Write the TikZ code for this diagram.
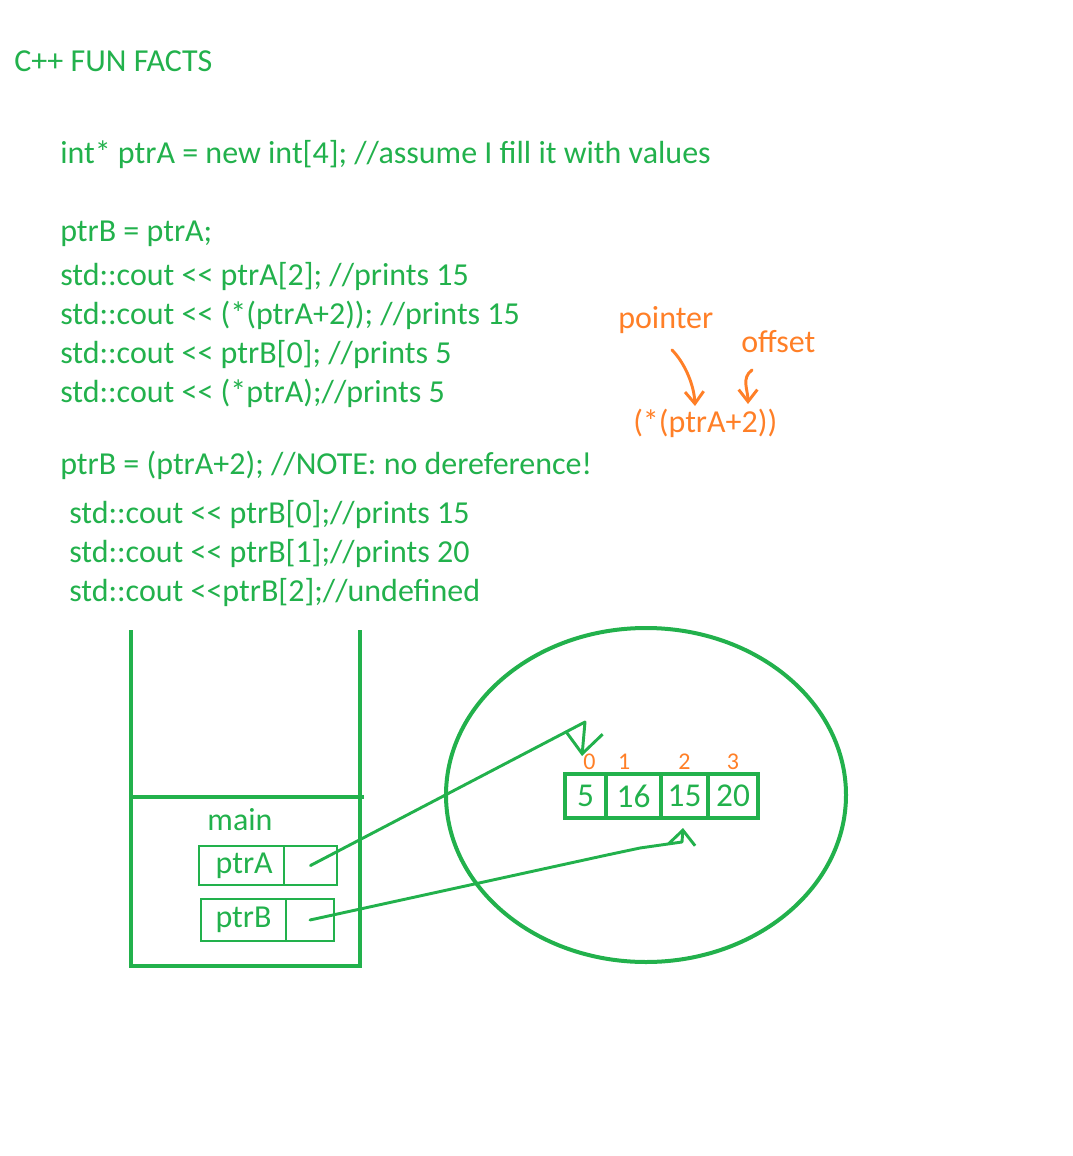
\documentclass[tikz,border=0pt]{standalone}
\usepackage{fontspec}
\usepackage{xcolor}
\usetikzlibrary{arrows.meta, shapes.geometric, positioning}
\newfontfamily\paintfont{Carlito}
\definecolor{PaintGreen}{HTML}{22B14C}
\definecolor{PaintOrange}{HTML}{FF7F27}

\begin{document}
\begin{tikzpicture}[x=0.75pt, y=-0.75pt,
        code/.style={anchor=base west, inner sep=0pt, text=PaintGreen, font=\paintfont\fontsize{24}{28}\selectfont},
        note/.style={code, text=PaintOrange},
        frame/.style={draw=PaintGreen, line width=3pt},
        slot/.style={draw=PaintGreen, line width=1pt, inner sep=0pt, outer sep=0pt, text=PaintGreen, font=\paintfont\fontsize{24}{28}\selectfont},
        cell/.style={draw=PaintGreen, line width=3pt, inner sep=0pt, outer sep=0pt, minimum height=33pt, text=PaintGreen, font=\paintfont\fontsize{25}{28}\selectfont},
        index/.style={inner sep=0pt, text=PaintOrange, font=\paintfont\fontsize{18}{20}\selectfont},
        pointer/.style={draw=PaintGreen, line width=2.2pt, line cap=round, line join=round, -{Straight Barb[length=11pt, width=20pt, line width=2.2pt]}},
        bigpointer/.style={pointer, -{Straight Barb[length=16pt, width=28pt, line width=2.2pt]}},
        hint/.style={draw=PaintOrange, line width=2.2pt, line cap=round, -{Straight Barb[length=9pt, width=14pt, line width=2.2pt]}}
    ]
    \useasboundingbox (0,0) rectangle (1072,1156);

    % the code
    \node[code] (title) at (14,72) {C++ FUN FACTS};
    \node[code] (alloc) at (60,163) {int* ptrA = new int[4]; //assume I fill it with values};
    \node[code] (copy) at (60,241) {ptrB = ptrA;};
    \node[code] (outA) at (60,285) {std::cout << ptrA[2]; //prints 15};
    \node[code] (outB) at (60,324) {std::cout << (*(ptrA+2)); //prints 15};
    \node[code] (outC) at (60,363) {std::cout << ptrB[0]; //prints 5};
    \node[code] (outD) at (60,402) {std::cout << (*ptrA);//prints 5};
    \node[code] (shift) at (60,474) {ptrB = (ptrA+2); //NOTE: no dereference!};
    \node[code] (outE) at (69,523) {std::cout << ptrB[0];//prints 15};
    \node[code] (outF) at (69,562) {std::cout << ptrB[1];//prints 20};
    \node[code] (outG) at (69,601) {std::cout <<ptrB[2];//undefined};

    % pointer / offset note
    \node[note] (ptrword) at (618,328) {pointer};
    \node[note] (offword) at (741,352) {offset};
    \node[note] (expr) at (633,432) {(*(ptrA+2))};
    \coordinate (ptrtip) at (695,406);
    \coordinate (offtip) at (748,404);
    \draw[hint] (672,350) .. controls (684,362) and (694,384) .. (ptrtip);
    \draw[hint] (752,370) .. controls (741,378) and (748,390) .. (offtip);

    % stack frame
    \draw[frame] (131,630) -- (131,966) -- (360,966) -- (360,630);
    \draw[frame] (133,797) -- (364,797);
    \node[code, anchor=center] (mainlbl) at (240,820) {main};
    \node[slot, minimum width=63.75pt, minimum height=29.25pt] (ptrAname) at (241.5,865.5) {\,ptrA};
    \node[slot, minimum width=39.75pt, minimum height=29.25pt, right=0pt of ptrAname] (ptrAval) {};
    \node[slot, minimum width=63.75pt, minimum height=31.5pt] (ptrBname) at (243.5,920) {ptrB};
    \node[slot, minimum width=36pt, minimum height=31.5pt, right=0pt of ptrBname] (ptrBval) {};

    % heap
    \node[ellipse, frame, minimum width=300pt, minimum height=250.5pt] (heap) at (646,795) {};
    \node[cell, minimum width=30.75pt] (cellA) at (585.5,796) {5};
    \node[cell, minimum width=41.25pt, right=0pt of cellA] (cellB) {16};
    \node[cell, minimum width=35.25pt, right=0pt of cellB] (cellC) {15};
    \node[cell, minimum width=37.5pt, right=0pt of cellC] (cellD) {20};
    \node[index, above=3pt of cellA.north, xshift=3pt] (idxA) {0};
    \node[index, above=3pt of cellB.north, xshift=-7pt] (idxB) {1};
    \node[index, above=3pt of cellC.north] (idxC) {2};
    \node[index, above=3pt of cellD.north] (idxD) {3};

    % pointers into the heap
    \coordinate (bendA) at (585,722);
    \coordinate (tipA) at (582,756);
    \coordinate (bendB) at (640,848);
    \coordinate (tipB) at (683,828);
    \draw[bigpointer] (ptrAval.center) -- (bendA) -- (tipA);
    \draw[pointer] (ptrBval.center) -- (607,855) -- (bendB) -- (682,842) -- (tipB);
\end{tikzpicture}
\end{document}
